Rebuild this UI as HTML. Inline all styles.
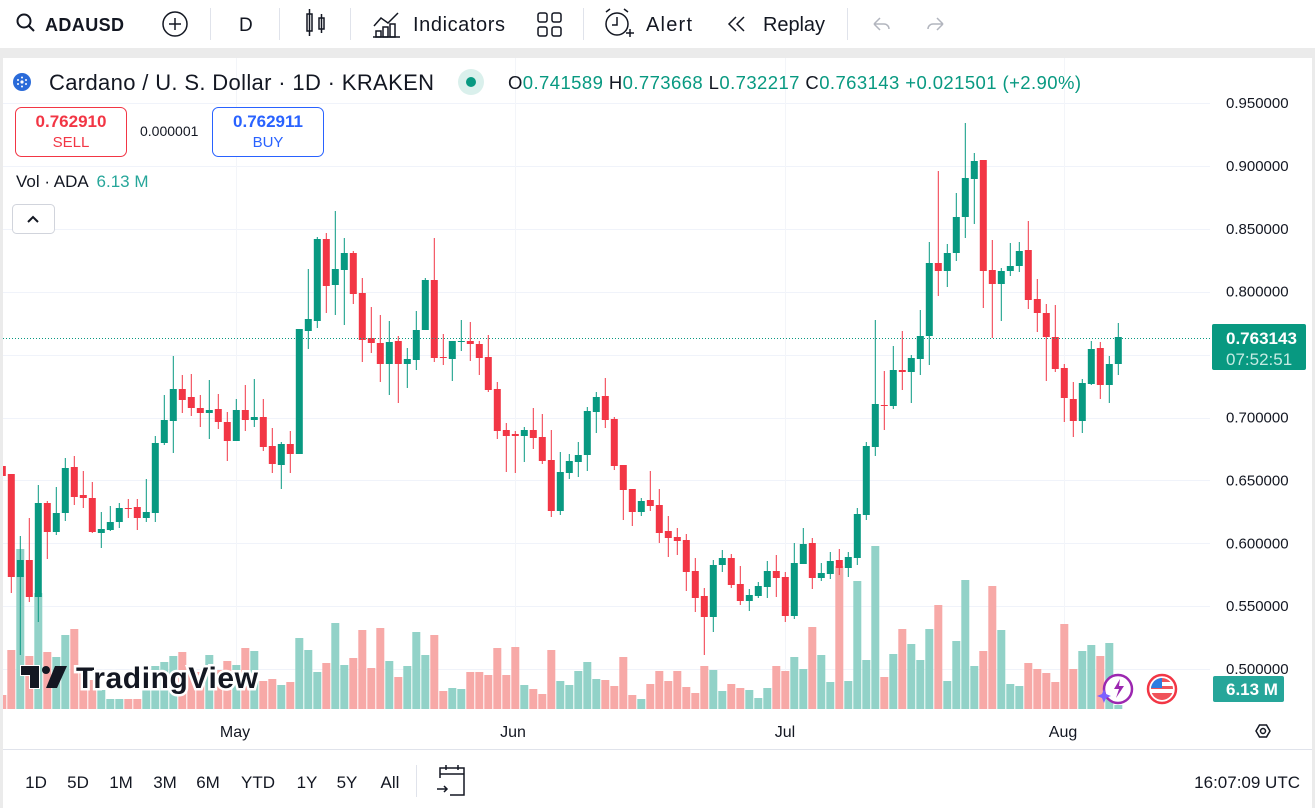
<!DOCTYPE html>
<html><head><meta charset="utf-8">
<style>
html,body{margin:0;padding:0;background:#fff;width:1315px;height:808px;overflow:hidden}
svg{display:block;font-family:"Liberation Sans",sans-serif}
</style></head>
<body>
<svg id="s" width="1315" height="808" viewBox="0 0 1315 808" xmlns="http://www.w3.org/2000/svg">
<rect width="1315" height="808" fill="#fff"/>
<rect x="0" y="48" width="1315" height="10" fill="#ebebeb"/>
<rect x="0" y="48" width="3" height="760" fill="#ebebeb"/>
<rect x="1312" y="48" width="3" height="760" fill="#ebebeb"/>
<g stroke="#131722" stroke-width="2" fill="none">
<circle cx="24" cy="21" r="6.5"/><line x1="29" y1="26" x2="34" y2="31"/>
<circle cx="175" cy="24" r="12" stroke-width="1.5"/><line x1="169" y1="24" x2="181" y2="24" stroke-width="1.5"/><line x1="175" y1="18" x2="175" y2="30" stroke-width="1.5"/>
<g stroke-width="1.5"><rect x="307" y="14" width="5" height="17"/><line x1="309.5" y1="9" x2="309.5" y2="36"/><rect x="319" y="18" width="5" height="11"/><line x1="321.5" y1="14" x2="321.5" y2="33"/></g>
<g stroke-width="1.5"><polyline points="374,26 381,18 388,23 398,13"/><rect x="376" y="31" width="5" height="6"/><rect x="383" y="27" width="5" height="10"/><rect x="390" y="24" width="5" height="13"/><line x1="373" y1="37" x2="400" y2="37"/></g>
<g stroke-width="1.5"><rect x="538" y="13" width="9" height="9" rx="2"/><rect x="552" y="13" width="9" height="9" rx="2"/><rect x="538" y="27" width="9" height="9" rx="2"/><rect x="552" y="27" width="9" height="9" rx="2"/></g>
<g stroke-width="1.5"><circle cx="617" cy="24" r="11"/><polyline points="617,17 617,25 612,25"/><line x1="606" y1="12" x2="610" y2="9"/><line x1="628" y1="12" x2="624" y2="9"/><line x1="626" y1="33" x2="634" y2="33"/><line x1="630" y1="29" x2="630" y2="37"/></g>
<g stroke-width="1.5"><polyline points="736,17 729,24 736,31"/><polyline points="744,17 737,24 744,31"/></g>
<g stroke="#b2b5be" stroke-width="1.5"><path d="M874 24 l6 -6 M874 24 l6 6 M874 24 h10 a5 5 0 0 1 5 5"/>
<path d="M943 24 l-6 -6 M943 24 l-6 6 M943 24 h-10 a5 5 0 0 0 -5 5"/></g>
</g>
<g fill="#e0e3eb"><rect x="210" y="8" width="1" height="32"/><rect x="279" y="8" width="1" height="32"/><rect x="350" y="8" width="1" height="32"/><rect x="583" y="8" width="1" height="32"/><rect x="847" y="8" width="1" height="32"/></g>
<g fill="#131722" font-size="20">
<text x="45" y="31" font-weight="bold" font-size="18" textLength="79">ADAUSD</text>
<text x="239" y="31" font-size="19">D</text>
<text x="413" y="31" textLength="92">Indicators</text>
<text x="646" y="31" textLength="46">Alert</text>
<text x="763" y="31" textLength="62">Replay</text>
</g>
<g id="grid"></g>
<g id="chart"></g>
<g id="axis" fill="#131722" font-size="15"></g>
<circle cx="22" cy="82" r="9" fill="#2a6bd9"/>
<g fill="#fff"><circle cx="22" cy="82" r="1.6"/><circle cx="18" cy="80" r="1"/><circle cx="26" cy="80" r="1"/><circle cx="18" cy="84" r="1"/><circle cx="26" cy="84" r="1"/><circle cx="22" cy="77.5" r="1"/><circle cx="22" cy="86.5" r="1"/></g>
<text x="49" y="90" font-size="22" fill="#131722" textLength="385">Cardano / U. S. Dollar · 1D · KRAKEN</text>
<circle cx="471" cy="82" r="13" fill="#daf0ec"/><circle cx="471" cy="82" r="5" fill="#089981"/>
<text x="508" y="89" font-size="18.5" fill="#089981" textLength="573"><tspan fill="#131722">O</tspan>0.741589 <tspan fill="#131722">H</tspan>0.773668 <tspan fill="#131722">L</tspan>0.732217 <tspan fill="#131722">C</tspan>0.763143 +0.021501 (+2.90%)</text>
<rect x="15.5" y="107.5" width="111" height="49" rx="6" fill="#fff" stroke="#f23645"/>
<text x="71" y="127" font-size="17" font-weight="bold" fill="#f23645" text-anchor="middle">0.762910</text>
<text x="71" y="147" font-size="15" fill="#f23645" text-anchor="middle">SELL</text>
<text x="140" y="136" font-size="14" fill="#131722">0.000001</text>
<rect x="212.5" y="107.5" width="111" height="49" rx="6" fill="#fff" stroke="#2962ff"/>
<text x="268" y="127" font-size="17" font-weight="bold" fill="#2962ff" text-anchor="middle">0.762911</text>
<text x="268" y="147" font-size="15" fill="#2962ff" text-anchor="middle">BUY</text>
<text x="16" y="187" font-size="17" fill="#131722">Vol · ADA <tspan fill="#26a69a" dx="4">6.13 M</tspan></text>
<rect x="12.5" y="204.5" width="42" height="29" rx="4" fill="#fff" stroke="#d1d4dc"/>
<polyline points="28,222 33,217 38,222" fill="none" stroke="#131722" stroke-width="2"/>
<g>
<text x="76" y="688" font-size="30" font-weight="bold" fill="#131722" stroke="#fff" stroke-width="5" paint-order="stroke" textLength="182">TradingView</text>
<path d="M21 666 h18 v22 h-9 v-13 h-9z" fill="#131722" stroke="#fff" stroke-width="2" paint-order="stroke"/>
<circle cx="46" cy="670" r="4" fill="#131722"/>
<path d="M55 666 h12 l-10 22 h-11z" fill="#131722"/>
</g>
<circle cx="1118" cy="689" r="14" fill="#fff" stroke="#9c27b0" stroke-width="2.5"/>
<path d="M1120 679 l-6 10 h5 l-3 9 l8 -12 h-5z" fill="#9c27b0"/>
<path d="M1102 694 l2 -5 l2 5 l5 2 l-5 2 l-2 5 l-2 -5 l-5 -2z" fill="#7b61ff"/>
<circle cx="1162" cy="689" r="14" fill="#fff" stroke="#f23645" stroke-width="2.5"/>
<clipPath id="fl"><circle cx="1162" cy="689" r="11"/></clipPath>
<g clip-path="url(#fl)"><rect x="1150" y="678" width="24" height="22" fill="#fff"/><rect x="1150" y="678" width="24" height="4" fill="#f0525a"/><rect x="1150" y="686" width="24" height="3" fill="#f0525a"/><rect x="1150" y="693" width="24" height="8" fill="#f0525a"/><rect x="1150" y="678" width="12" height="10" fill="#2f7de1"/></g>
<rect x="1212" y="324" width="94" height="46" rx="2" fill="#089981"/>
<text x="1226" y="344" font-size="17" fill="#fff" font-weight="bold">0.763143</text>
<text x="1226" y="365" font-size="17" fill="#c5ebe3">07:52:51</text>
<rect x="1213" y="676" width="71" height="26" rx="2" fill="#26a69a"/>
<text x="1226" y="695" font-size="17" fill="#fff" font-weight="bold">6.13 M</text>
<polygon points="1256,731 1259.5,725 1266.5,725 1270,731 1266.5,737 1259.5,737" fill="none" stroke="#131722" stroke-width="1.5"/>
<circle cx="1263" cy="731" r="2.5" fill="none" stroke="#131722" stroke-width="1.5"/>
<g font-size="16" fill="#131722" text-anchor="middle">
<text x="235" y="737">May</text><text x="513" y="737">Jun</text><text x="785" y="737">Jul</text><text x="1063" y="737">Aug</text>
</g>
<rect x="3" y="749" width="1309" height="1" fill="#e0e3eb"/>
<g font-size="17" fill="#131722" text-anchor="middle">
<text x="36" y="788">1D</text><text x="78" y="788">5D</text><text x="121" y="788">1M</text><text x="165" y="788">3M</text><text x="208" y="788">6M</text><text x="258" y="788">YTD</text><text x="307" y="788">1Y</text><text x="347" y="788">5Y</text><text x="390" y="788">All</text>
</g>
<rect x="416" y="765" width="1" height="32" fill="#e0e3eb"/>
<g fill="none" stroke="#131722" stroke-width="1.5"><path d="M440 778 v-10 h24 v27 h-14"/><line x1="446" y1="765" x2="446" y2="770"/><line x1="458" y1="765" x2="458" y2="770"/><line x1="440" y1="774" x2="464" y2="774"/><line x1="437" y1="789" x2="447" y2="789"/><polyline points="444,786 447,789 444,792"/></g>
<text x="1300" y="788" font-size="17" fill="#131722" text-anchor="end">16:07:09 UTC</text>
</svg>
<script>
var D=[
['R',466,476,460,476,695],
['R',474,577,474,593,650],['G',560,577,536,655,549],['R',560,597,518,602,656],['G',503,597,485,622,593],['R',503,532,501,559,652],
['G',513,532,487,535,657],['G',468,513,458,521,635],['R',467,497,456,505,629],['R',495,498,471,508,665],['R',498,532,482,533,680],
['G',529,533,512,548,690],['G',522,530,506,531,699],['G',508,522,503,528,699],['R',508,509,499,518,699],['R',507,518,499,530,699],
['G',512,518,479,522,667],['G',443,513,436,522,666],['G',420,443,395,445,662],['G',389,421,356,453,656],['R',389,400,375,413,652],
['R',397,408,374,416,667],['R',408,413,395,427,672],['G',410,413,380,439,655],['R',409,422,394,429,670],['R',422,441,412,461,661],
['G',410,441,399,441,665],['R',410,420,385,431,648],['G',417,420,379,427,651],['R',417,447,399,451,681],['R',446,464,428,473,679],
['G',444,465,442,489,685],['R',444,454,431,473,682],['G',329,454,329,454,638],['G',319,331,269,349,650],['G',239,321,237,328,672],
['R',239,286,233,313,663],['G',269,285,211,315,623],['G',253,270,238,325,665],['R',253,294,251,304,658],['R',293,340,278,362,630],
['R',338,343,307,353,668],['R',343,364,315,382,628],['G',342,364,321,395,661],['R',341,364,336,403,677],['G',359,364,348,388,666],
['G',330,360,311,370,632],['G',280,330,278,330,655],['R',280,358,238,362,635],['R',357,358,334,365,691],['G',341,359,341,381,688],
['G',341,342,320,351,689],['R',341,344,322,361,672],['R',344,358,341,375,672],['R',357,390,335,392,675],['R',389,431,382,439,648],
['R',430,436,423,472,675],['R',434,436,431,473,647],['G',430,436,427,462,685],['R',430,438,408,449,689],['R',437,461,414,464,694],
['R',460,511,430,517,650],['G',472,511,452,515,681],['G',461,473,454,479,685],['G',455,462,442,477,671],['G',411,455,407,471,662],
['G',397,412,392,433,679],['R',396,420,378,428,680],['R',419,466,417,470,686],['R',465,490,465,520,657],['R',489,512,489,526,695],
['G',501,512,498,516,699],['R',500,506,471,511,684],['R',505,533,489,543,671],['R',531,538,516,557,681],['R',537,541,528,555,671],
['R',540,572,534,591,687],['R',571,598,558,612,693],['R',596,617,588,655,666],['G',565,617,560,632,670],['G',558,565,550,572,691],
['R',558,585,554,588,684],['R',584,601,566,605,688],['G',595,601,589,611,690],['G',586,596,582,598,698],['G',571,587,561,598,688],
['R',571,578,555,597,666],['R',577,616,572,622,671],['G',563,616,543,619,657],['G',544,564,528,564,669],['R',543,578,538,589,627],
['G',573,578,563,581,655],['G',561,574,552,579,682],['R',560,568,549,575,566],['G',557,568,552,577,681],['G',514,558,508,565,581],
['G',446,515,442,520,660],['G',404,447,320,456,546],['R',405,406,371,430,677],['G',370,406,346,409,654],['R',370,372,331,390,629],
['G',358,372,355,403,644],['G',336,359,310,375,660],['G',263,336,242,365,629],['R',263,271,171,296,605],['G',253,271,244,287,681],
['G',217,253,193,261,641],['G',178,217,123,238,580],['G',161,179,153,224,666],['R',160,271,160,308,651],['R',270,284,240,338,586],
['G',271,284,268,321,630],['G',266,271,243,276,684],['G',251,266,242,272,686],['R',250,300,221,309,663],['R',299,313,279,332,669],
['R',313,337,304,381,673],['R',337,369,305,372,682],['R',368,398,364,422,624],['R',399,421,382,437,669],['G',383,421,379,433,651],
['G',349,384,341,385,645],['R',348,385,342,399,656],['G',364,385,356,403,643],['G',337,364,323,375,705]
];
var NS='http://www.w3.org/2000/svg';
function el(p,t,a){var e=document.createElementNS(NS,t);for(var k in a)e.setAttribute(k,a[k]);p.appendChild(e);return e;}
var g=document.getElementById('grid'),c=document.getElementById('chart'),ax=document.getElementById('axis');
var defs=el(document.getElementById('s'),'defs',{});var cp=el(defs,'clipPath',{id:'cc'});el(cp,'rect',{x:3,y:58,width:1207,height:651});
var prices=['0.950000','0.900000','0.850000','0.800000','0.750000','0.700000','0.650000','0.600000','0.550000','0.500000'];
for(var i=0;i<10;i++){var y=103+i*62.9;el(g,'rect',{x:3,y:Math.round(y),width:1207,height:1,fill:'#f0f3fa'});
 if(i!=4){var t=el(ax,'text',{x:1226,y:(y+5).toFixed(1)});t.textContent=prices[i];}}
[236,515,785,1064].forEach(function(x){el(g,'rect',{x:x,y:58,width:1,height:651,fill:'#f3f5f9'});});
c.setAttribute('clip-path','url(#cc)');
var vg=el(c,'g',{}),cg=el(c,'g',{});
D.forEach(function(d,k){var i=k-1;var x=11.3+9*i;var col=d[0]=='G'?'#089981':'#f23645';var vcol=d[0]=='G'?'#92d2c8':'#f7a9a7';
 el(vg,'rect',{x:(x-4).toFixed(1),y:d[5],width:8,height:709-d[5],fill:vcol});
 el(cg,'rect',{x:(x-0.5).toFixed(1),y:d[3],width:1,height:d[4]-d[3],fill:col});
 el(cg,'rect',{x:(x-3.5).toFixed(1),y:d[1],width:7,height:Math.max(1,d[2]-d[1]),fill:col});
});
el(c,'line',{x1:3,y1:338.5,x2:1210,y2:338.5,stroke:'#089981','stroke-width':1,'stroke-dasharray':'1 2'});
</script>
</body></html>
